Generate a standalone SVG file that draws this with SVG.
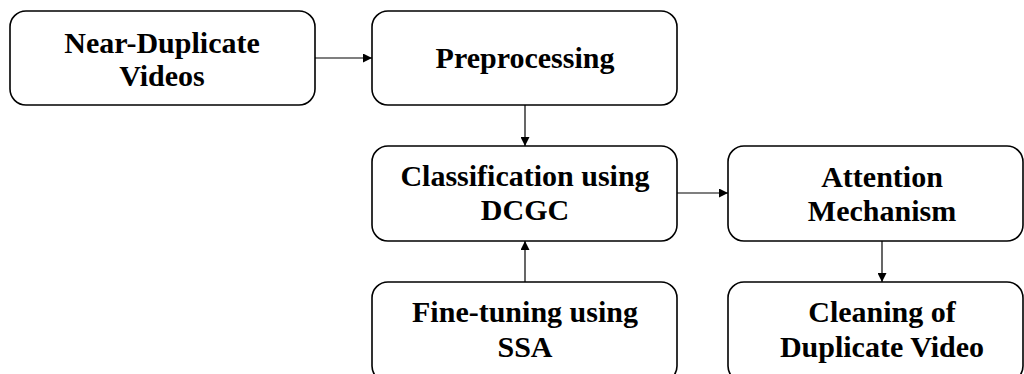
<svg xmlns="http://www.w3.org/2000/svg" width="1024" height="374" viewBox="0 0 1024 374">
<defs>
<style>
.box{fill:#fff;stroke:#000;stroke-width:1.6}
.t{font-family:"Liberation Serif","Times New Roman",serif;font-weight:bold;font-size:30px;fill:#000;text-anchor:middle}
.c{stroke:#000;stroke-width:1.2;fill:none;marker-end:url(#ah)}
</style>
<marker id="ah" viewBox="0 0 10 10" refX="10" refY="5" markerWidth="9" markerHeight="9" markerUnits="userSpaceOnUse" orient="auto">
<path d="M0,0 L10,5 L0,10 Z" fill="#000"/>
</marker>
</defs>
<rect width="1024" height="374" fill="#fff"/>
<g id="connectors">
<line class="c" x1="315" y1="58" x2="372" y2="58"/>
<line class="c" x1="525" y1="105" x2="525" y2="146"/>
<line class="c" x1="525" y1="282" x2="525" y2="241"/>
<line class="c" x1="677" y1="193" x2="728" y2="193"/>
<line class="c" x1="882" y1="241" x2="882" y2="282"/>
</g>
<g id="near-duplicate">
<rect class="box" x="10" y="11" width="305" height="94" rx="16"/>
<text class="t" x="162" y="53">Near-Duplicate</text>
<text class="t" x="162" y="86">Videos</text>
</g>
<g id="preprocessing">
<rect class="box" x="372" y="11" width="305" height="94" rx="16"/>
<text class="t" x="525" y="68">Preprocessing</text>
</g>
<g id="classification">
<rect class="box" x="372" y="146" width="305" height="95" rx="16"/>
<text class="t" x="525" y="186">Classification using</text>
<text class="t" x="525" y="220">DCGC</text>
</g>
<g id="fine-tuning">
<rect class="box" x="372" y="282" width="305" height="100" rx="16"/>
<text class="t" x="525" y="322">Fine-tuning using</text>
<text class="t" x="525" y="357">SSA</text>
</g>
<g id="attention">
<rect class="box" x="728" y="146" width="295" height="95" rx="16"/>
<text class="t" x="882" y="187">Attention</text>
<text class="t" x="882" y="221">Mechanism</text>
</g>
<g id="cleaning">
<rect class="box" x="728" y="282" width="295" height="100" rx="16"/>
<text class="t" x="882" y="322">Cleaning of</text>
<text class="t" x="882" y="357">Duplicate Video</text>
</g>
</svg>
